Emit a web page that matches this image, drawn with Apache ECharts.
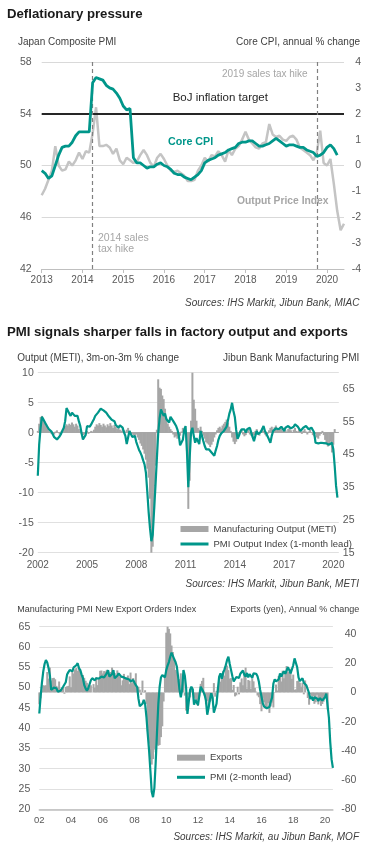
<!DOCTYPE html>
<html>
<head>
<meta charset="utf-8">
<script src="https://cdn.jsdelivr.net/npm/echarts@6.0.0/dist/echarts.min.js"></script>
<style>
html,body{margin:0;padding:0;background:#fff;}
#chart{width:372px;height:857px;}
</style>
</head>
<body>
<div id="chart"></div>
<script>
// ---------------- DATA ----------------
// Panel 1: monthly from Jan 2013
const p1Start = [2013, 1];
const p1Months = 90;
const p1YearLabels = ['2013','2014','2015','2016','2017','2018','2019','2020'];
const outputPriceIndex = [
  47.7, 48.2, 48.9, 49.6, 51.5, 50.0, 49.6, 49.7, 50.3, 50.0, 50.4, 51.0,
  50.5, 51.1, 51.0, 52.5, 54.5, 51.5, 51.5, 51.6, 51.4, 50.9, 51.3, 50.4,
  50.1, 50.6, 50.4, 50.2, 50.3, 50.8, 51.2, 50.8, 50.2, 49.9, 50.6, 50.9,
  50.5, 50.0, 49.6, 49.5, 49.6, 49.4, 49.2, 48.8, 48.8, 48.9, 49.6, 50.0,
  50.6, 50.3, 50.8, 50.7, 51.1, 50.8, 50.3, 51.2, 50.8, 51.3, 51.5, 52.0,
  52.6, 52.0, 51.7, 51.4, 51.3, 51.7, 51.8, 53.2, 52.4, 52.2, 52.3, 52.0,
  51.9, 52.2, 52.3, 52.0, 51.4, 51.2, 51.0, 50.8, 50.4, 51.0, 52.7, 50.2,
  50.0, 50.5, 48.6, 46.5, 45.0, 45.5
];
const coreCPI = [
  -0.2, -0.3, -0.5, -0.4, 0.0, 0.4, 0.7, 0.75, 0.75, 0.9, 1.15, 1.3,
  1.3, 1.3, 1.3, 3.2, 3.4, 3.35, 3.3, 3.1, 3.0, 2.95, 2.8, 2.6,
  2.3, 2.15, 2.2, 0.3, 0.1, 0.1, 0.0, -0.1, -0.05, -0.05, 0.05, 0.1,
  0.0, -0.05, -0.15, -0.3, -0.35, -0.35, -0.45, -0.5, -0.55, -0.45, -0.35, -0.2,
  0.1, 0.2, 0.25, 0.3, 0.4, 0.45, 0.5, 0.6, 0.65, 0.7, 0.85, 0.9,
  0.9, 0.95, 0.95, 0.85, 0.75, 0.75, 0.8, 0.85, 0.95, 1.05, 0.95, 0.85,
  0.75, 0.8, 0.8, 0.75, 0.7, 0.7, 0.6, 0.55, 0.5, 0.35, 0.4, 0.5,
  0.7, 0.8, 0.65, 0.4
];
const bojTarget = 54;              // on PMI scale (= 2% CPI)
const taxHikes = ['2014-04', '2019-10'];

// Panel 2: monthly from Jan 2002
const p2Start = [2002, 1];
const p2Months = 221;
const p2YearLabels = ['2002','2005','2008','2011','2014','2017','2020'];
const metiOutput = [
  0.3, 1.5, 2.6, 2.8, 2.2, 1.8, 1.2, 0.8, 0.4, 0.1, -0.2, -0.4,
  -0.3, 0.2, 0.4, 0.1, -0.3, 0.2, 0.5, 0.8, 1.1, 1.4, 1.2, 1.5,
  1.3, 1.7, 1.4, 1.0, 1.5, 1.2, 0.6, 0.3, -0.2, -0.4, -0.3, 0.1,
  0.3, -0.2, 0.1, 0.3, 0.2, 0.5, 1.0, 1.4, 1.2, 1.6, 1.3, 1.0,
  1.5, 1.2, 0.9, 1.4, 1.1, 1.6, 1.2, 0.8, 1.3, 1.0, 0.6, 0.9,
  0.5, 0.3, 0.7, 0.4, 0.2, 0.5, 0.8, 0.3, 0.1, -0.2, -0.4, -0.6,
  -0.3, -0.8, -1.2, -1.8, -2.2, -2.8, -3.5, -4.5, -6.0, -7.5, -11.0, -20.0,
  -19.0, -12.8, -5.5, 0.5, 8.9, 7.5, 7.3, 6.2, 5.6, 4.0, 2.4, 1.5,
  1.0, 0.6, 0.3, -0.3, -0.8, -0.6, -1.0, -0.7, -0.5, 0.2, 0.8, 0.5,
  0.2, -3.0, -12.7, -8.0, 2.0, 10.0, 5.5, 4.0, 2.0, 0.8, 0.5, 1.0,
  0.3, -0.5, -1.0, -1.6, -1.8, -2.0, -2.4, -2.0, -1.5, -0.8, -0.3, 0.4,
  0.8, 1.0, 0.7, 1.2, 1.5, 1.8, 2.2, 1.7, 1.0, 0.3, -0.8, -1.5,
  -1.9, -1.5, -1.0, -0.5, 0.3, 0.6, -0.3, -0.6, -0.4, 0.2, 0.5, -0.3,
  -0.5, -0.8, -0.4, 0.3, 0.6, -0.2, -0.5, 0.4, 0.7, 0.3, -0.3, -0.6,
  -0.2, 0.4, 0.8, 1.0, 0.6, 0.9, 1.2, 0.7, 0.4, 0.9, 0.6, 0.3,
  0.8, 0.5, 0.2, 0.6, 0.9, 0.4, 0.1, 0.5, 0.8, 0.3, 0.2, 0.6,
  0.4, -0.2, 0.3, 0.6, 0.2, -0.3, 0.2, 0.5, 0.1, -0.4, -0.6, -0.2,
  -0.8, -1.0, -0.5, -0.2, 0.3, -0.4, -1.2, -1.8, -2.3, -2.0, -1.5, -3.3,
  -2.0, 0.6
];
const pmiOutputLead1 = [
  38.5, 48, 53, 56.5, 55.8, 55, 54.2, 53.5, 52.8, 52.5, 52, 51.5,
  50.3, 49.7, 49.6, 49.8, 50.6, 51.3, 52.3, 53.2, 55.2, 59.2, 58.8, 57.5,
  56.8, 57.8, 57.4, 56.8, 56.4, 56.8, 55.2, 53.8, 51.5, 49.6, 49.5, 51,
  53.7, 53.2, 53.5, 54.2, 55, 55.8, 56.8, 57.3, 57.8, 58, 59, 59.3,
  58.5, 58.3, 57.8, 57.2, 56.6, 56, 55.6, 55.4, 55.2, 54, 53.6, 53.2,
  53.9, 53.4, 53.2, 51.8, 50.7, 48.2, 50.2, 52.2, 51.8, 50.4, 51, 50.6,
  48.8, 47.6, 46.4, 45.6, 44.6, 43.2, 42, 39.5, 33.8, 27.5, 22.5, 18.5,
  20.5, 28, 35.4, 43.5, 51.5, 56, 58.8, 58.3, 56.8, 57.5, 55.8, 55.2,
  54.8, 56.5, 56.8, 55.2, 54.5, 53.8, 52.7, 51, 47.8, 47.2, 49.5, 52.5,
  53.7, 46, 35, 44, 51.7, 53.2, 50.7, 48.6, 50, 49.5, 48.2, 52.2,
  50.7, 49.1, 47.6, 46.6, 46, 46.6, 46.3, 45.6, 45, 44.6, 46.2, 47.6,
  49.5, 50.7, 51.4, 51.8, 52.2, 52.7, 53.5, 55.5, 57.5, 58.8, 60.8, 58.3,
  56.5, 52.5, 49.8, 50.7, 52, 52.7, 53, 52.7, 51.7, 52.7, 52.2, 53.2,
  51.7, 50.4, 49.1, 50.7, 52.2, 51.2, 51.5, 51.9, 51.7, 53.7, 52.2, 51.4,
  51.2, 49.6, 48.6, 50.7, 52.2, 52.5, 53, 53.2, 52.7, 53.2, 53.5, 53.7,
  52.2, 53.2, 53.5, 53.7, 53.4, 53, 52.7, 53.5, 54.2, 53.7, 53.5, 53.7,
  52.2, 52.7, 53.2, 53.5, 53.7, 53.2, 52.7, 53, 53.2, 52.5, 51.7, 48.6,
  48.5, 48.4, 48.5, 48.6, 48.6, 48.5, 48.2, 48.4, 48.1, 48.0, 48.3, 48.6,
  46.6, 41.5, 35.4, 31.8
];

// Panel 3: monthly from Jan 2002
const p3Start = [2002, 1];
const p3Months = 223;
const p3YearLabels = ['02','04','06','08','10','12','14','16','18','20'];
const exportsYoY = [
  -8.1, -4.0, 1.4, 4.9, 4.7, 4.9, 14.0, 9.5, 17.0, 8.2, 9.8, 10.0,
  9.0, 4.5, 3.5, 7.5, 2.3, 2.4, 3.3, -0.9, 3.8, 4.2, 4.5, 11.0,
  3.5, 14.6, 13.0, 15.8, 16.8, 14.8, 17.5, 13.6, 11.5, 12.0, 10.0, 8.0,
  6.6, 3.0, 3.6, 4.9, 0.1, 5.7, 3.2, 10.5, 5.0, 8.8, 14.8, 15.0,
  13.0, 14.6, 14.4, 15.5, 14.7, 11.0, 14.0, 17.0, 15.2, 13.3, 11.7, 15.1,
  12.8, 10.8, 4.9, 8.3, 12.7, 9.4, 10.3, 11.6, 5.7, 13.6, 6.4, 9.9,
  6.4, 13.1, 2.3, 3.9, 1.9, -1.7, 8.1, -0.3, 1.5, -7.8, -26.7, -35.0,
  -45.7, -49.4, -45.6, -39.1, -40.9, -35.7, -36.5, -36.0, -30.6, -23.2, -6.2, 12.1,
  40.9, 45.3, 43.5, 40.4, 32.1, 27.7, 23.5, 15.4, 14.4, 7.8, 9.1, 13.1,
  1.4, 9.0, -2.2, -12.4, -10.3, -1.6, -3.4, 2.8, 2.4, -3.7, -4.5, -8.0,
  -9.3, -2.7, 5.9, 7.9, 10.0, -2.3, -8.1, -5.8, -10.3, -6.5, -4.1, -5.8,
  6.4, -2.9, 1.1, 3.8, 10.1, 7.4, 12.2, 14.7, 11.5, 18.6, 18.4, 15.3,
  9.5, 9.8, 1.8, 5.1, -2.7, -2.0, 3.9, -1.3, 6.9, 9.6, 4.9, 12.9,
  17.0, 2.5, 8.5, 8.0, 2.4, 9.5, 7.6, 3.1, 0.6, -2.1, -3.3, -8.0,
  -12.9, -4.0, -6.8, -10.1, -11.3, -7.4, -14.0, -9.6, -6.9, -10.3, -0.4, 5.4,
  1.3, 11.3, 12.0, 7.5, 14.9, 9.7, 13.4, 18.1, 14.1, 14.0, 16.2, 9.3,
  12.2, 1.8, 2.1, 7.8, 8.1, 6.7, 3.9, 6.6, -1.3, 8.2, 0.1, -3.8,
  -8.4, -1.2, -2.4, -2.4, -7.8, -6.7, -1.6, -8.2, -5.2, -9.2, -7.9, -6.3,
  -2.6, -1.0, -11.7
];
const pmiExportLead2 = [
  43.6, 47.8, 51.2, 54, 55.8, 56.8, 56.2, 54.8, 53, 49.4, 49.8, 50,
  49.6, 49.8, 49, 48.8, 49.2, 49.5, 50.2, 50.6, 51.3, 53.2, 53.8, 54.3,
  54.3, 54, 55, 55.3, 55.5, 56, 54.8, 54.3, 53.2, 52.3, 50.6, 49.8,
  49.2, 49.8, 50.2, 51.8, 52.3, 52, 51.8, 52.3, 52.7, 52.2, 52.5, 52.7,
  53.1, 52.5, 52.3, 53.5, 54.3, 52.7, 52.5, 53.3, 54.3, 52.3, 52.5, 52.9,
  53.5, 53.1, 52.7, 52.9, 52.5, 52.3, 52.2, 52.5, 52, 51.5, 51.6, 51.9,
  51.2, 50.6, 50.1, 47.2, 45.4, 45.2, 46, 47, 46, 42.8, 38.5, 34.5,
  29.5, 24.3, 23, 25.2, 31.5, 39, 46, 50.2, 52.5, 53.1, 53.5, 52.5,
  54.3, 55.4, 56.3, 57.6, 58.6, 58.2, 57, 56.3, 55.2, 52.5, 49.5, 47.6,
  49.5, 54.3, 53, 50, 43.5, 46.5, 49.4, 50.2, 49.6, 45.8, 47, 46.8,
  45.7, 48, 50.2, 49.8, 49, 48.2, 46.8, 43.3, 45, 47, 48.6, 47.5,
  43.8, 43.5, 46, 49.5, 52.7, 53.5, 52.2, 53.6, 54.5, 55.5, 56.8, 57.6,
  55.8, 54.3, 52.8, 51.5, 51.2, 52.6, 52.2, 52.4, 53.4, 53.1, 54.2, 53.2,
  52.7, 53.6, 52.5, 53.3, 53.6, 52.4, 53.5, 53.1, 53.4, 52.8, 51.5, 49.4,
  47.8, 46.1, 45.3, 44.9, 44.9, 44.9, 45.2, 46.5, 47.5, 51, 52, 51.5,
  51.5, 52, 53.5, 52.7, 53.5, 54, 53.4, 54.2, 55, 54.3, 53.5, 54.5,
  55.5, 57.2, 57.6, 55, 52.5, 51.6, 51.5, 52.3, 51.2, 50.8, 50.5, 50.2,
  48.6, 47.2, 47.8, 46.8, 47.6, 47.6, 47.3, 46.7, 47.4, 47.4, 46.8, 47.2,
  47.6, 48.5, 48.6, 42.5, 36.5, 32.3, 30.2
];

// ---------------- CHART ----------------
function monthSeq(start, n) {
  const out = [];
  for (let i = 0; i < n; i++) {
    const t = start[1] - 1 + i;
    const y = start[0] + Math.floor(t / 12);
    const m = (t % 12) + 1;
    out.push(y + '-' + (m < 10 ? '0' + m : '' + m));
  }
  return out;
}
const p1Cats = monthSeq(p1Start, p1Months);
const p2Cats = monthSeq(p2Start, p2Months);
const p3Cats = monthSeq(p3Start, p3Months);

const FONT = "'Liberation Sans', Arial, Helvetica, sans-serif";
const TEAL = '#00968a';
const LBL = '#595959';
const TXT = '#404040';

const p1Show = (i, v) => v.endsWith('-01') && p1YearLabels.includes(v.slice(0, 4));
const p2Show = (i, v) => v.endsWith('-01') && p2YearLabels.includes(v.slice(0, 4));
const p3Show = (i, v) => v.endsWith('-01') && p3YearLabels.includes(v.slice(2, 4));

function txt(text, x, y, size, opts) {
  opts = opts || {};
  const al = opts.align || 'left';
  return {
    type: 'text', x: x, y: y, silent: true, z: 100,
    style: {
      text: text,
      fill: opts.fill || TXT,
      font: (opts.italic ? 'italic ' : 'normal ') + (opts.bold ? 'bold ' : 'normal ') + size + 'px ' + FONT,
      textAlign: al, textVerticalAlign: 'middle',
      align: al, verticalAlign: 'middle'
    }
  };
}

const yLabel = (extra) => Object.assign({ color: LBL, fontSize: 10.5, fontFamily: FONT }, extra);
const legendLine = (name) => ({ name: name, itemStyle: { opacity: 0 }, lineStyle: { width: 3 } });

const option = {
  animation: false,
  backgroundColor: '#ffffff',
  grid: [
    { left: 41.7, top: 62, width: 302.3, height: 207 },
    { left: 37.8, top: 372.7, width: 301, height: 180 },
    { left: 39.3, top: 626.7, width: 293.6, height: 182.6 }
  ],
  xAxis: [
    {
      type: 'category', gridIndex: 0, data: p1Cats, boundaryGap: false,
      axisLine: { show: true, onZero: false, lineStyle: { color: '#bfbfbf', width: 1 } },
      axisTick: { show: true, length: 4, interval: p1Show, lineStyle: { color: '#bfbfbf' } },
      axisLabel: { interval: p1Show, formatter: v => v.slice(0, 4), color: LBL, fontSize: 10, fontFamily: FONT, margin: 6 },
      splitLine: { show: false }
    },
    {
      type: 'category', gridIndex: 1, data: p2Cats, boundaryGap: false,
      axisLine: { show: false, onZero: false },
      axisTick: { show: false },
      axisLabel: { interval: p2Show, formatter: v => v.slice(0, 4), color: LBL, fontSize: 10, fontFamily: FONT, margin: 8 },
      splitLine: { show: false }
    },
    {
      type: 'category', gridIndex: 2, data: p3Cats, boundaryGap: false,
      axisLine: { show: true, onZero: false, lineStyle: { color: '#bfbfbf', width: 1.5 } },
      axisTick: { show: false },
      axisLabel: { interval: p3Show, formatter: v => v.slice(2, 4), color: LBL, fontSize: 9.5, fontFamily: FONT, margin: 6 },
      splitLine: { show: false }
    }
  ],
  yAxis: [
    { type: 'value', gridIndex: 0, position: 'left', min: 42, max: 58, interval: 4,
      axisLine: { show: false }, axisTick: { show: false },
      axisLabel: yLabel({ margin: 10 }),
      splitLine: { show: true, lineStyle: { color: '#d9d9d9', width: 1 } } },
    { type: 'value', gridIndex: 0, position: 'right', min: -4, max: 4, interval: 1,
      axisLine: { show: false }, axisTick: { show: false },
      axisLabel: yLabel({ margin: 17, align: 'right' }),
      splitLine: { show: false } },
    { type: 'value', gridIndex: 1, position: 'left', min: -20, max: 10, interval: 5,
      axisLine: { show: false }, axisTick: { show: false },
      axisLabel: yLabel({ margin: 4 }),
      splitLine: { show: true, lineStyle: { color: '#e0e0e0', width: 1 } } },
    { type: 'value', gridIndex: 1, position: 'right', min: 15, max: 70, interval: 10,
      axisLine: { show: false }, axisTick: { show: false },
      axisLabel: yLabel({ margin: 4, showMaxLabel: false }),
      splitLine: { show: false } },
    { type: 'value', gridIndex: 2, position: 'left', min: 20, max: 65, interval: 5,
      axisLine: { show: false }, axisTick: { show: false },
      axisLabel: yLabel({ margin: 9 }),
      splitLine: { show: true, lineStyle: { color: '#e0e0e0', width: 1 } } },
    { type: 'value', gridIndex: 2, position: 'right', min: -80, max: 45, interval: 20,
      axisLine: { show: false }, axisTick: { show: false },
      axisLabel: yLabel({ margin: 23.5, align: 'right', showMaxLabel: false }),
      splitLine: { show: false } }
  ],
  legend: [
    {
      data: [{ name: 'Manufacturing Output (METI)', icon: 'rect' }, legendLine('PMI Output Index (1-month lead)')],
      orient: 'vertical', left: 179, top: 523, padding: 0,
      itemWidth: 28, itemHeight: 6, itemGap: 3, selectedMode: false,
      textStyle: { fontSize: 9.5, color: TXT, fontFamily: FONT, lineHeight: 12 }
    },
    {
      data: [{ name: 'Exports', icon: 'rect' }, legendLine('PMI (2-month lead)')],
      orient: 'vertical', left: 175.5, top: 751.7, padding: 0,
      itemWidth: 28, itemHeight: 6, itemGap: 7.6, selectedMode: false,
      textStyle: { fontSize: 9.5, color: TXT, fontFamily: FONT, lineHeight: 12 }
    }
  ],
  series: [
    {
      name: 'Output Price Index', type: 'line', xAxisIndex: 0, yAxisIndex: 0,
      data: outputPriceIndex, symbol: 'none', z: 2,
      lineStyle: { color: '#c4c4c4', width: 2.5 }, itemStyle: { color: '#c4c4c4' },
      markLine: {
        silent: true, symbol: ['none', 'none'], label: { show: false }, animation: false,
        data: [
          { yAxis: bojTarget, lineStyle: { color: '#262626', width: 1.8, type: 'solid' } },
          { xAxis: taxHikes[0], lineStyle: { color: '#808080', width: 1.2, type: [4, 3] } },
          { xAxis: taxHikes[1], lineStyle: { color: '#808080', width: 1.2, type: [4, 3] } }
        ]
      }
    },
    {
      name: 'Core CPI', type: 'line', xAxisIndex: 0, yAxisIndex: 1,
      data: coreCPI, symbol: 'none', z: 6,
      lineStyle: { color: TEAL, width: 2.8 }, itemStyle: { color: TEAL }
    },
    {
      name: 'Manufacturing Output (METI)', type: 'bar', xAxisIndex: 1, yAxisIndex: 2,
      data: metiOutput, barWidth: 2, z: 2,
      itemStyle: { color: '#a6a6a6' },
      markLine: {
        silent: true, symbol: ['none', 'none'], label: { show: false }, animation: false,
        data: [{ yAxis: 0, lineStyle: { color: '#a6a6a6', width: 1, type: 'solid' } }]
      }
    },
    {
      name: 'PMI Output Index (1-month lead)', type: 'line', xAxisIndex: 1, yAxisIndex: 3,
      data: pmiOutputLead1, symbol: 'none', z: 6,
      lineStyle: { color: TEAL, width: 2.2 }, itemStyle: { color: TEAL }
    },
    {
      name: 'Exports', type: 'bar', xAxisIndex: 2, yAxisIndex: 5,
      data: exportsYoY, barWidth: 2, z: 2,
      itemStyle: { color: '#a6a6a6' }
    },
    {
      name: 'PMI (2-month lead)', type: 'line', xAxisIndex: 2, yAxisIndex: 4,
      data: pmiExportLead2, symbol: 'none', z: 6,
      lineStyle: { color: TEAL, width: 2.2 }, itemStyle: { color: TEAL }
    }
  ],
  graphic: [
    txt('Deflationary pressure', 7, 14, 13.2, { bold: true, fill: '#1a1a1a' }),
    txt('Japan Composite PMI', 18, 42.7, 10),
    txt('Core CPI, annual % change', 360, 42.7, 10, { align: 'right' }),
    txt('2019 sales tax hike', 222, 74, 10, { fill: '#a6a6a6' }),
    txt('BoJ inflation target', 172.7, 97.7, 11.5, { fill: '#262626' }),
    txt('Core CPI', 168, 141.7, 10.7, { bold: true, fill: TEAL }),
    txt('Output Price Index', 237, 201, 10.3, { bold: true, fill: '#a6a6a6' }),
    txt('2014 sales', 98, 237.7, 10.5, { fill: '#a6a6a6' }),
    txt('tax hike', 98, 249.2, 10.5, { fill: '#a6a6a6' }),
    txt('Sources: IHS Markit, Jibun Bank, MIAC', 359.5, 303.3, 10, { italic: true, align: 'right' }),
    txt('PMI signals sharper falls in factory output and exports', 7, 332.7, 13.2, { bold: true, fill: '#1a1a1a' }),
    txt('Output (METI), 3m-on-3m % change', 17.3, 358.3, 10),
    txt('Jibun Bank Manufacturing PMI', 359.3, 358.3, 10, { align: 'right' }),
    txt('Sources: IHS Markit, Jibun Bank, METI', 359, 584, 10, { italic: true, align: 'right' }),
    txt('Manufacturing PMI New Export Orders Index', 17.3, 609.3, 9),
    txt('Exports (yen), Annual % change', 359.3, 609.3, 9, { align: 'right' }),
    txt('Sources: IHS Markit, au Jibun Bank, MOF', 359, 837.3, 10, { italic: true, align: 'right' })
  ]
};

const chart = echarts.init(document.getElementById('chart'), null, { renderer: 'canvas' });
chart.setOption(option);
</script>
</body>
</html>
